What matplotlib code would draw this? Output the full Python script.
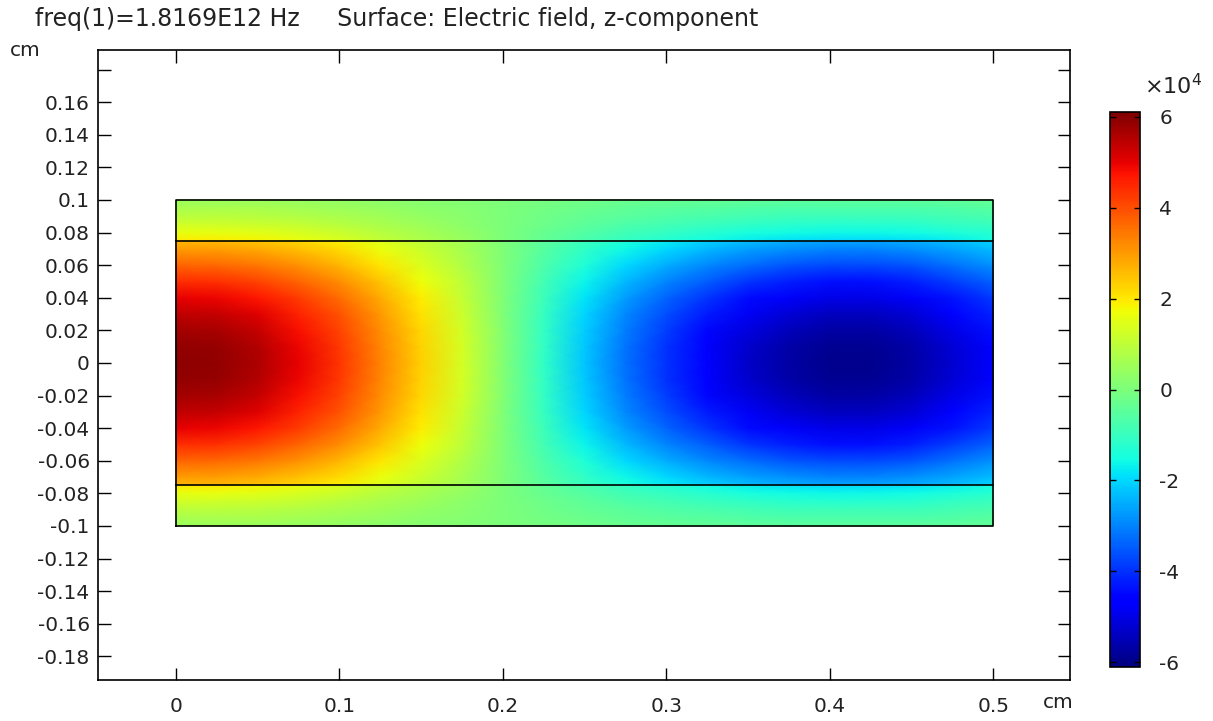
import numpy as np
from matplotlib import pyplot as plt
from matplotlib.colors import Normalize

# Ez along the centre line y = 0 (units of 1e4 V/m)
x_pos = [0.0, 0.025, 0.05, 0.075, 0.1, 0.125, 0.15, 0.175, 0.2, 0.225, 0.25,
         0.275, 0.3, 0.325, 0.35, 0.375, 0.4, 0.425, 0.45, 0.475, 0.5]
ez_center = [5.95, 5.9, 5.6, 5.0, 4.3, 3.3, 2.3, 1.3, 0.1, -1.1, -2.2,
             -3.2, -4.0, -4.7, -5.3, -5.7, -5.95, -5.95, -5.7, -5.2, -4.6]

# relative transverse profile, core |y| < 0.075 cm
y_core = [0.0, 0.01, 0.02, 0.03, 0.04, 0.05, 0.06, 0.07, 0.075]
g_core = [1.0, 0.99, 0.96, 0.91, 0.84, 0.74, 0.62, 0.50, 0.44]
# relative transverse profile, cladding 0.075 < |y| < 0.1 cm
y_clad = [0.075, 0.08, 0.085, 0.09, 0.095, 0.1]
g_clad = [0.33, 0.27, 0.21, 0.16, 0.12, 0.08]

core_half = 0.075
slab_half = 0.1
length = 0.5

y_ticks = [-0.18, -0.16, -0.14, -0.12, -0.1, -0.08, -0.06, -0.04, -0.02, 0,
           0.02, 0.04, 0.06, 0.08, 0.1, 0.12, 0.14, 0.16, 0.18]
x_ticks = [0, 0.1, 0.2, 0.3, 0.4, 0.5]
cbar_ticks = [-6, -4, -2, 0, 2, 4, 6]

plt.rcParams['font.family'] = 'DejaVu Sans'
plt.rcParams['font.size'] = 14.5
plt.rcParams['text.color'] = '#222222'
plt.rcParams['xtick.labelcolor'] = '#222222'
plt.rcParams['ytick.labelcolor'] = '#222222'

fig = plt.figure(figsize=(12.13, 7.21), dpi=100)
ax = fig.add_axes([98 / 1213, 1 - 680 / 721, 972 / 1213, 630 / 721])
cax = fig.add_axes([1110 / 1213, 1 - 667 / 721, 30 / 1213, 555 / 721])

norm = Normalize(vmin=-6.1, vmax=6.1)
cmap = plt.get_cmap('jet')
xs = np.array(x_pos)
ez = np.array(ez_center)

# core region, mirrored about y = 0
yc = np.concatenate([-np.array(y_core[::-1]), np.array(y_core[1:])])
gc = np.concatenate([np.array(g_core[::-1]), np.array(g_core[1:])])
Xc, Yc = np.meshgrid(xs, yc)
mesh = ax.pcolormesh(Xc, Yc, np.outer(gc, ez), shading='gouraud', cmap=cmap, norm=norm)

# cladding regions
ycl = np.array(y_clad)
Xt, Yt = np.meshgrid(xs, ycl)
ax.pcolormesh(Xt, Yt, np.outer(g_clad, ez), shading='gouraud', cmap=cmap, norm=norm)
ax.pcolormesh(Xt, -Yt, np.outer(g_clad, ez), shading='gouraud', cmap=cmap, norm=norm)

# geometry outline
ax.plot([0, length, length, 0, 0], [-slab_half, -slab_half, slab_half, slab_half, -slab_half],
        color='black', lw=1.2)
ax.plot([0, length], [core_half, core_half], color='black', lw=1.2)
ax.plot([0, length], [-core_half, -core_half], color='black', lw=1.2)

ax.set_xlim(-0.0477, 0.547)
ax.set_ylim(-0.1945, 0.192)
ax.set_xticks(x_ticks)
ax.set_xticklabels([f'{t:g}' for t in x_ticks])
ax.set_yticks(y_ticks)
ax.set_yticklabels(['' if t == 0.18 else f'{t:g}' for t in y_ticks])
ax.tick_params(direction='in', length=9, width=1.0, top=True, right=True)
ax.tick_params(axis='y', pad=6)
ax.tick_params(axis='x', pad=12)
for s in ax.spines.values():
    s.set_linewidth(1.2)

fig.text(35 / 1213, 1 - 19 / 721, 'freq(1)=1.8169E12 Hz     Surface: Electric field, z-component',
         ha='left', va='center', fontsize=17)
fig.text(10 / 1213, 1 - 50 / 721, 'cm', ha='left', va='center', fontsize=14.5)
fig.text(1043 / 1213, 1 - 703 / 721, 'cm', ha='left', va='center', fontsize=14.5)

cb = fig.colorbar(mesh, cax=cax, ticks=cbar_ticks)
cb.ax.tick_params(direction='in', length=4, width=1.0, left=True, right=True, pad=14)
cb.ax.set_yticklabels([f'{t:g}' for t in cbar_ticks])
cb.outline.set_linewidth(1.2)
fig.text(1144 / 1213, 1 - 86 / 721, r'$\times10^4$', ha='left', va='center', fontsize=16)

fig.savefig('out.png', dpi=100)
